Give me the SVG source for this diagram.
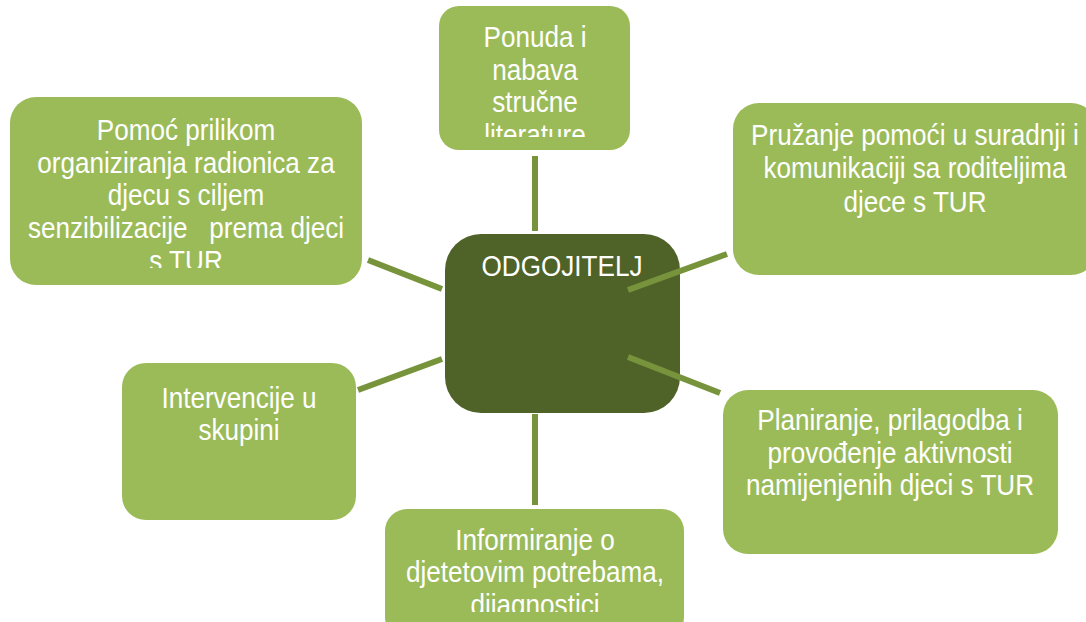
<svg xmlns="http://www.w3.org/2000/svg" width="1086" height="622" viewBox="0 0 1086 622">
<style>
.node{fill:#9BBB59;}
.center{fill:#4F6228;}
.t{font-family:"Liberation Sans",Arial,sans-serif;font-size:30px;fill:#ffffff;text-anchor:middle;}
.conn line{stroke:#77933C;stroke-width:6;stroke-linecap:butt;}
</style>
<defs>
<clipPath id="c-top"><rect x="439" y="10" width="191" height="127"/></clipPath>
<clipPath id="c-tl"><rect x="10" y="100" width="352" height="168"/></clipPath>
<clipPath id="c-bot"><rect x="385" y="512" width="299" height="100"/></clipPath>
</defs>
<rect width="1086" height="622" fill="#ffffff"/>
<g id="node-center">
<rect class="center" x="445" y="234" width="235" height="179" rx="36"/>
<text class="t" transform="translate(562,0) scale(0.87,1)" x="0" y="276">ODGOJITELJ</text>
</g>
<g class="conn" id="connectors">
<line x1="535" y1="156" x2="535" y2="231"/>
<line x1="535" y1="414" x2="535" y2="505"/>
<line x1="628" y1="290" x2="727" y2="254"/>
<line x1="628" y1="357" x2="720" y2="393"/>
<line x1="368" y1="260" x2="442" y2="289"/>
<line x1="442" y1="359" x2="358" y2="390"/>
</g>
<g id="node-top">
<rect class="node" x="439" y="6" width="191" height="144" rx="20"/>
<g clip-path="url(#c-top)">
<text class="t" transform="translate(535,0) scale(0.87,1)" x="0" y="47">Ponuda i</text>
<text class="t" transform="translate(535,0) scale(0.87,1)" x="0" y="80">nabava</text>
<text class="t" transform="translate(535,0) scale(0.87,1)" x="0" y="112">stručne</text>
<text class="t" transform="translate(535,0) scale(0.87,1)" x="0" y="145">literature</text>
</g>
</g>
<g id="node-topleft">
<rect class="node" x="10" y="97" width="352" height="188" rx="26"/>
<g clip-path="url(#c-tl)">
<text class="t" transform="translate(186,0) scale(0.87,1)" x="0" y="140">Pomoć prilikom</text>
<text class="t" transform="translate(186,0) scale(0.87,1)" x="0" y="173">organiziranja radionica za</text>
<text class="t" transform="translate(186,0) scale(0.87,1)" x="0" y="205">djecu s ciljem</text>
<text class="t" transform="translate(186,0) scale(0.87,1)" x="0" y="238" xml:space="preserve">senzibilizacije   prema djeci</text>
<text class="t" transform="translate(186,0) scale(0.87,1)" x="0" y="271">s TUR</text>
</g>
</g>
<g id="node-topright">
<rect class="node" x="733" y="103" width="364" height="172" rx="26"/>
<text class="t" transform="translate(915,0) scale(0.87,1)" x="0" y="145">Pružanje pomoći u suradnji i</text>
<text class="t" transform="translate(915,0) scale(0.87,1)" x="0" y="178">komunikaciji sa roditeljima</text>
<text class="t" transform="translate(915,0) scale(0.87,1)" x="0" y="212">djece s TUR</text>
</g>
<g id="node-bottomleft">
<rect class="node" x="122" y="363" width="234" height="157" rx="24"/>
<text class="t" transform="translate(239,0) scale(0.87,1)" x="0" y="408">Intervencije u</text>
<text class="t" transform="translate(239,0) scale(0.87,1)" x="0" y="440">skupini</text>
</g>
<g id="node-bottom">
<rect class="node" x="385" y="509" width="299" height="130" rx="22"/>
<g clip-path="url(#c-bot)">
<text class="t" transform="translate(535,0) scale(0.87,1)" x="0" y="550">Informiranje o</text>
<text class="t" transform="translate(535,0) scale(0.87,1)" x="0" y="582">djetetovim potrebama,</text>
<text class="t" transform="translate(535,0) scale(0.87,1)" x="0" y="615">dijagnostici</text>
</g>
</g>
<g id="node-bottomright">
<rect class="node" x="723" y="390" width="335" height="164" rx="25"/>
<text class="t" transform="translate(890,0) scale(0.87,1)" x="0" y="430">Planiranje, prilagodba i</text>
<text class="t" transform="translate(890,0) scale(0.87,1)" x="0" y="463">provođenje aktivnosti</text>
<text class="t" transform="translate(890,0) scale(0.87,1)" x="0" y="495">namijenjenih djeci s TUR</text>
</g>
</svg>
